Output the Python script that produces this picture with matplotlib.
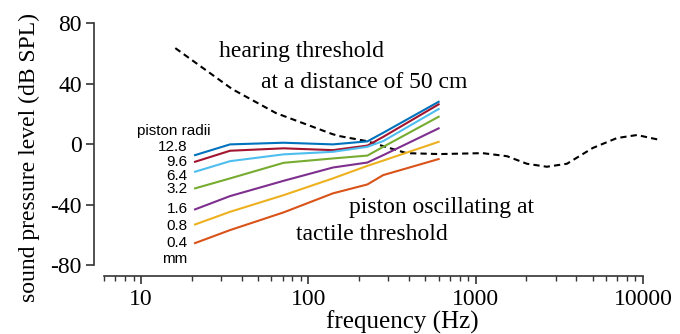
import numpy as np
import matplotlib
matplotlib.use("Agg")
import matplotlib.pyplot as plt

# hearing threshold at 50 cm (dashed)
thr_freq = [16, 35, 64, 139, 153, 222, 386, 608, 1100, 1535, 2020, 2660, 3510, 5000, 6980, 9200, 12300]
thr_db = [63.5, 36.4, 20.5, 6.6, 5.3, 2.0, -6.0, -6.6, -6.0, -8.0, -13.0, -15.0, -13.0, -2.6, 4.0, 6.0, 3.0]

# piston at tactile threshold, one curve per radius (mm)
piston_freq = [21, 34, 71, 140, 225, 280, 600]
radii = ["12.8", "9.6", "6.4", "3.2", "1.6", "0.8", "0.4"]
piston_db = {
    "12.8": [-7.3, -0.2, 0.9, -0.2, 1.8, 7.5, 28.0],
    "9.6": [-11.7, -4.4, -2.8, -4.0, -1.0, 4.8, 26.3],
    "6.4": [-18.3, -11.3, -6.8, -5.1, -1.8, 2.0, 23.2],
    "3.2": [-29.3, -22.7, -12.4, -9.5, -7.6, -1.8, 18.1],
    "1.6": [-43.2, -34.4, -24.3, -15.5, -12.2, -7.3, 10.4],
    "0.8": [-53.2, -44.8, -33.8, -22.7, -14.4, -10.9, 1.5],
    "0.4": [-65.5, -56.9, -45.2, -32.6, -26.7, -20.5, -9.9],
}
colors = ["#0072BD", "#A2142F", "#4DBEEE", "#77AC30", "#7E2F8E", "#EDB120", "#D95319"]
label_db = [-2, -12, -21, -30, -43, -54, -65.5]

serif = ["Liberation Serif", "DejaVu Serif"]
sans = ["Liberation Sans", "DejaVu Sans"]
fs = 17

fig = plt.figure(figsize=(6.8, 3.34), dpi=100)
ax = fig.add_axes([0.153, 0.2066, 0.836, 0.724])

ax.plot(thr_freq, thr_db, color="black", lw=1.5, ls=(0, (3, 2)))
for r, c in zip(radii, colors):
    ax.plot(piston_freq, piston_db[r], color=c, lw=1.5)

# radius labels
ax.text(15.7, 8.6, "piston radii", family=sans, fontsize=11, ha="center", va="center")
for r, yv in zip(radii, label_db):
    ax.text(19, yv, r, family=sans, fontsize=11, ha="right", va="center")
ax.text(19, -76, "mm", family=sans, fontsize=11, ha="right", va="center")

ax.text(29.2, 61, "hearing threshold", family=serif, fontsize=fs, va="center")
ax.text(52, 41, "at a distance of 50 cm", family=serif, fontsize=fs, va="center")
ax.text(174, -41.7, "piston oscillating at", family=serif, fontsize=fs, va="center")
ax.text(84, -59.6, "tactile threshold", family=serif, fontsize=fs, va="center")

ax.set_xscale("log")
ax.set_xlim(6, 15000)
ax.set_ylim(-80, 80)
ax.set_xticks([10, 100, 1000, 10000], ["10", "100", "1000", "10000"])
ax.set_yticks([-80, -40, 0, 40, 80], ["-80", "-40", "0", "40", "80"])

for s in ["top", "right"]:
    ax.spines[s].set_visible(False)
ax.spines["left"].set_position(("outward", 7))
ax.spines["bottom"].set_position(("outward", 8))
ax.spines["left"].set_bounds(-80, 80)
ax.spines["bottom"].set_bounds(6, 10000)
for s in ["left", "bottom"]:
    ax.spines[s].set_color("#333333")
    ax.spines[s].set_linewidth(1.2)

ax.tick_params(axis="both", which="major", length=6, width=1.2, color="#333333",
               labelsize=fs, pad=3)
ax.tick_params(axis="x", which="minor", length=3.5, width=1.0, color="#333333")
for lab in ax.get_xticklabels() + ax.get_yticklabels():
    lab.set_family(serif)

ax.set_xlabel("frequency (Hz)", family=serif, fontsize=18)
ax.set_ylabel("sound pressure level (dB SPL)", family=serif, fontsize=fs)
ax.xaxis.set_label_coords(0.524, -0.19)
ax.yaxis.set_label_coords(-0.112, 0.446)

fig.savefig("out.png", dpi=100)
